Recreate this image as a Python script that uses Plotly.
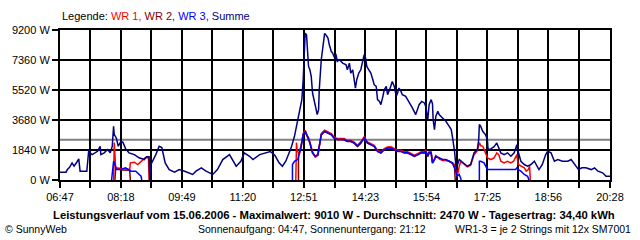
import plotly.graph_objects as go

# ---------------- data ----------------
x_labels = ["06:47", "08:18", "09:49", "11:20", "12:51", "14:23", "15:54", "17:25", "18:56", "20:28"]
y_ticks = [0, 1840, 3680, 5520, 7360, 9200]
average_w = 2470

summe_time = ["06:47","06:56","06:58","07:01","07:05","07:08","07:12","07:15","07:17","07:27",
              "07:30","07:32","07:35","07:43","07:47","07:48","07:53","07:58","08:02","08:05",
              "08:07","08:08","08:11","08:14","08:18","08:21","08:25","08:30","08:38","08:45",
              "08:53","08:56","09:00","09:01","09:02","09:04","09:10","09:15","09:19","09:24",
              "09:30","09:38","09:45","09:53","10:05","10:10","10:18","10:25","10:35","10:42",
              "10:50","11:00","11:10","11:17","11:22","11:30","11:35","11:45","11:55","12:01",
              "12:08","12:14","12:19","12:24","12:32","12:37","12:42","12:44","12:48","12:50",
              "12:52","12:53","12:55","12:57","12:58","13:00","13:02","13:04","13:07","13:09",
              "13:11","13:13","13:14","13:17","13:18","13:22","13:24","13:27","13:29","13:32",
              "13:34","13:36","13:39","13:41","13:44","13:49","13:54","13:56","13:59","14:01",
              "14:04","14:06","14:08","14:10","14:13","14:16","14:19","14:21","14:23","14:25",
              "14:28","14:31","14:34","14:36","14:39","14:41","14:44","14:46","14:49","14:51",
              "14:54","14:56","14:59","15:01","15:03","15:06","15:09","15:11","15:13","15:16",
              "15:18","15:23","15:26","15:29","15:33","15:38","15:41","15:43","15:47","15:51",
              "15:53","15:56","15:58","16:01","16:03","16:04","16:06","16:08","16:11","16:13",
              "16:18","16:23","16:28","16:31","16:33","16:36","16:38","16:40","16:43","16:48",
              "16:55","17:00","17:05","17:10","17:12","17:13","17:15","17:18","17:22","17:25",
              "17:26","17:30","17:35","17:39","17:42","17:45","17:50","17:55","18:00","18:05",
              "18:09","18:10","18:15","18:20","18:25","18:30","18:35","18:38","18:42","18:47",
              "18:52","18:55","19:00","19:05","19:10","19:17","19:25","19:30","19:35","19:41",
              "19:46","19:52","20:00","20:05","20:10","20:17","20:22","20:28"]
summe_w = [480, 480, 640, 765, 1050, 845, 1090, 1300, 540, 540,
           1870, 1665, 1560, 1760, 2070, 1560, 1665, 1870, 1665, 2070,
           3290, 2785, 2580, 2070, 2375, 2310, 1910, 1665, 1560, 1360,
           1255, 1420, 1420, 0, 900, 1050, 1560, 2070, 1990, 1050,
           640, 480, 640, 540, 340, 540, 745, 540, 340, 640,
           1255, 1560, 845, 1150, 1665, 1455, 1255, 1560, 1665, 1745,
           1500, 1050, 845, 1150, 1970, 2680, 3700, 4190, 4930, 6150,
           8600, 9010, 8900, 7785, 6965, 6760, 6350, 5335, 4820, 4315,
           4010, 4315, 5540, 7375, 7785, 8990, 8900, 8700, 8290, 7880,
           7785, 7575, 7680, 7270, 7375, 7170, 7070, 6760, 7170, 6560,
           6760, 6255, 5640, 6150, 6560, 6760, 7375, 7680, 7500, 6965,
           6760, 6560, 6150, 5845, 5740, 4930, 4820, 4620, 5130, 5540,
           5740, 5230, 5540, 5845, 6045, 5740, 5130, 5355, 5640, 5435,
           5230, 5130, 4930, 4725, 4420, 4010, 4420, 4620, 4820, 4725,
           4515, 3700, 4620, 4930, 4680, 3700, 3090, 3905, 4210, 4010,
           3805, 3600, 3290, 3090, 2600, 1745, 845, 890, 1255, 1100,
           845, 950, 1665, 1870, 2480, 3400, 3290, 2985, 2785, 2480,
           1870, 1910, 2050, 2275, 1970, 1665, 1560, 1665, 1455, 1665,
           2170, 1870, 1150, 950, 845, 950, 1150, 950, 640, 950,
           1560, 1760, 1665, 1150, 1255, 1150, 1150, 1255, 950, 640,
           745, 745, 640, 745, 540, 440, 230, 230]

wr1_time = ["08:07","08:08","08:10","08:18","08:28","08:31","08:32","08:38","08:43","08:51",
            "08:54","08:59","09:00","09:01",
            "12:39","12:40","12:41","12:44","12:47","12:50","12:53","12:55","12:58","13:00",
            "13:04","13:08","13:12","13:14","13:17","13:22","13:27","13:32","13:36","13:41",
            "13:51","13:56","14:01","14:06","14:11","14:16","14:21","14:26","14:31","14:36",
            "14:41","14:46","14:51","14:56","15:01","15:06","15:11","15:16","15:21","15:26",
            "15:31","15:36","15:41","15:46","15:51","15:53","15:56","15:58","16:01","16:03",
            "16:06","16:08","16:13","16:18","16:23","16:28","16:33","16:36","16:38","16:40",
            "16:43","16:45","16:48","16:55","17:00","17:05","17:10","17:12","17:13","17:15",
            "17:18","17:20","17:25","17:30","17:35","17:39","17:42","17:45","17:50","17:55",
            "18:00","18:04","18:07","18:09","18:11","18:15","18:20","18:23","18:26","18:28",
            "18:29"]
wr1_w = [0, 2290, 745, 700, 640, 640, 1050, 1090, 950, 1255,
         1360, 1360, 0, None,
         0, 2290, 1800, 1620, 2130, 2850, 3050, 2850, 2640, 2330,
         1720, 1400, 1520, 2120, 2850, 3060, 2960, 2850, 2640, 2540,
         2540, 2430, 2440, 2330, 2130, 2340, 2640, 2330, 2230, 2130,
         1820, 1730, 1930, 2030, 2040, 1930, 1820, 1830, 1730, 1730,
         1620, 1520, 1620, 1730, 1730, 1830, 1520, 1730, 1730, 1110,
         1300, 1500, 1300, 1200, 1200, 1150, 1000, 950, 540, 230,
         845, 1100, 1050, 800, 900, 1550, 1800, 2250, 2290, 2100,
         2080, 1880, 1360, 1255, 1360, 1665, 1560, 1150, 1050, 1150,
         1050, 1150, 1360, 1560, 950, 845, 745, 540, 640, 845,
         0]

wr2_time = ["08:09","08:10","08:20","08:31","08:32","08:33",
            "12:43","12:43","12:44","12:47","12:50","12:53","12:55","12:58","13:00","13:04",
            "13:08","13:12","13:14","13:17","13:22","13:27","13:32","13:36","13:41","13:51",
            "13:56","14:01","14:06","14:11","14:16","14:21","14:26","14:31","14:36","14:41",
            "14:46","14:51","14:56","15:01","15:06","15:11","15:16","15:21","15:26","15:31",
            "15:36","15:41","15:46","15:51","15:53","15:56","15:58","16:01","16:03","16:06",
            "16:08","16:13","16:18","16:23","16:28","16:33","16:36","16:37"]
wr2_w = [0, 700, 620, 600, 0, None,
         0, 1640, 1580, 2060, 2770, 2970, 2770, 2570, 2260, 1650,
         1440, 1550, 2060, 2770, 2970, 2880, 2770, 2570, 2470, 2470,
         2360, 2360, 2260, 2060, 2260, 2570, 2260, 2160, 2060, 1750,
         1650, 1860, 1960, 1960, 1860, 1750, 1750, 1650, 1650, 1550,
         1440, 1550, 1650, 1650, 1750, 1440, 1650, 1650, 1040, 1240,
         1440, 1350, 1240, 1240, 1140, 1040, 740, 0]

wr3_time = ["08:04","08:07","08:10","08:11","08:18","08:25","08:33","08:40","08:48","08:49",
            "08:50",
            "12:34","12:34","12:37","12:42","12:44","12:47","12:50","12:53","12:55","12:58",
            "13:00","13:04","13:08","13:12","13:14","13:17","13:22","13:27","13:32","13:36",
            "13:41","13:51","13:56","14:01","14:06","14:11","14:16","14:21","14:26","14:31",
            "14:36","14:41","14:46","14:51","14:56","15:01","15:06","15:11","15:16","15:21",
            "15:26","15:31","15:36","15:41","15:46","15:51","15:53","15:56","15:58","16:01",
            "16:03","16:06","16:08","16:13","16:18","16:23","16:28","16:33","16:36","16:38",
            "16:40","16:43","16:46","16:50",
            "17:13","17:13","17:15","17:20","17:25","17:40","17:58","18:07","18:09","18:11",
            "18:15","18:20","18:25","18:27"]
wr3_w = [0, 1150, 845, 640, 640, 745, 540, 540, 230, 0,
         None,
         0, 950, 1150, 1255, 1560, 2070, 2785, 2985, 2785, 2580,
         2275, 1665, 1455, 1560, 2070, 2785, 2985, 2890, 2785, 2580,
         2480, 2480, 2375, 2375, 2275, 2070, 2275, 2580, 2275, 2170,
         2070, 1760, 1665, 1870, 1970, 1970, 1870, 1760, 1760, 1665,
         1665, 1560, 1455, 1560, 1665, 1665, 1760, 1455, 1665, 1665,
         1050, 1255, 1455, 1360, 1255, 1255, 1150, 1050, 745, 440,
         230, 340, 0, None,
         0, 1150, 1150, 1050, 640, 640, 640, 640, 745, 640,
         540, 340, 230, 0]

for t, v in [(summe_time, summe_w), (wr1_time, wr1_w), (wr2_time, wr2_w), (wr3_time, wr3_w)]:
    assert len(t) == len(v), (len(t), len(v))


def to_min(s):
    h, m = s.split(":")
    return int(h) * 60 + int(m)


# ---------------- figure ----------------
FONT = "Liberation Sans, Arial, sans-serif"
fig = go.Figure()

series = [
    (wr2_time, wr2_w, "#800000"),
    (wr1_time, wr1_w, "#FF0000"),
    (wr3_time, wr3_w, "#0000FF"),
    (summe_time, summe_w, "#000080"),
]
for t, v, c in series:
    fig.add_trace(go.Scatter(x=[to_min(s) for s in t], y=v, mode="lines",
                             line=dict(color=c, width=1.5), connectgaps=False,
                             hoverinfo="skip"))

tick_pos, tick_txt = [], []
prev = None
for lab in x_labels:
    p = to_min(lab)
    if prev is not None:
        tick_pos.append((prev + p) / 2)
        tick_txt.append("")
    tick_pos.append(p)
    tick_txt.append(lab)
    prev = p

axis_common = dict(showgrid=True, gridcolor="#000000", gridwidth=2,
                   showline=True, mirror=True, linecolor="#000000", linewidth=2,
                   ticks="outside", ticklen=6, tickwidth=2, tickcolor="#000000",
                   tickfont=dict(family=FONT, size=11, color="#000000"),
                   zeroline=False, fixedrange=True)

fig.update_layout(
    width=640, height=240, autosize=False,
    margin=dict(l=60, r=30, t=30, b=60, pad=0),
    plot_bgcolor="#FFFFFF", paper_bgcolor="#FFFFFF",
    showlegend=False,
    xaxis=dict(range=[to_min(x_labels[0]), to_min(x_labels[-1])], tickmode="array",
               tickvals=tick_pos, ticktext=tick_txt, **axis_common),
    yaxis=dict(range=[y_ticks[0], y_ticks[-1]], tickmode="array",
               tickvals=y_ticks, ticktext=[f"{v} W" for v in y_ticks], **axis_common),
    shapes=[dict(type="line", xref="paper", x0=0, x1=1, yref="y", y0=average_w, y1=average_w,
                 line=dict(color="#808080", width=2), layer="between")],
)

legend_html = ("Legende: <span style='color:#FF0000'>WR 1, </span>"
               "<span style='color:#800000'>WR 2, </span>"
               "<span style='color:#0000FF'>WR 3, </span>"
               "<span style='color:#000080'>Summe</span>")


def px_x(x):
    return (x - 60) / 550


def px_y(y):
    return (180 - y) / 150


anns = [
    dict(text=legend_html, x=px_x(60), y=px_y(16.5), xanchor="left", yanchor="middle",
         font=dict(family=FONT, size=11, color="#000000")),
    dict(text="<b>Leistungsverlauf vom 15.06.2006 - Maximalwert: 9010 W - Durchschnitt: 2470 W - Tagesertrag: 34,40 kWh</b>",
         x=px_x(334), y=px_y(215), xanchor="center", yanchor="middle",
         font=dict(family=FONT, size=11.3, color="#000000")),
    dict(text="© SunnyWeb", x=px_x(3), y=px_y(229), xanchor="left", yanchor="middle",
         font=dict(family=FONT, size=10.5, color="#000000")),
    dict(text="Sonnenaufgang: 04:47, Sonnenuntergang: 21:12", x=px_x(428), y=px_y(229),
         xanchor="right", yanchor="middle", font=dict(family=FONT, size=10.5, color="#000000")),
    dict(text="WR1-3 = je 2 Strings mit 12x SM7001", x=px_x(633), y=px_y(229),
         xanchor="right", yanchor="middle", font=dict(family=FONT, size=10.5, color="#000000")),
]
for a in anns:
    a.update(xref="paper", yref="paper", showarrow=False)
fig.update_layout(annotations=anns)

fig.write_html("out.html")
